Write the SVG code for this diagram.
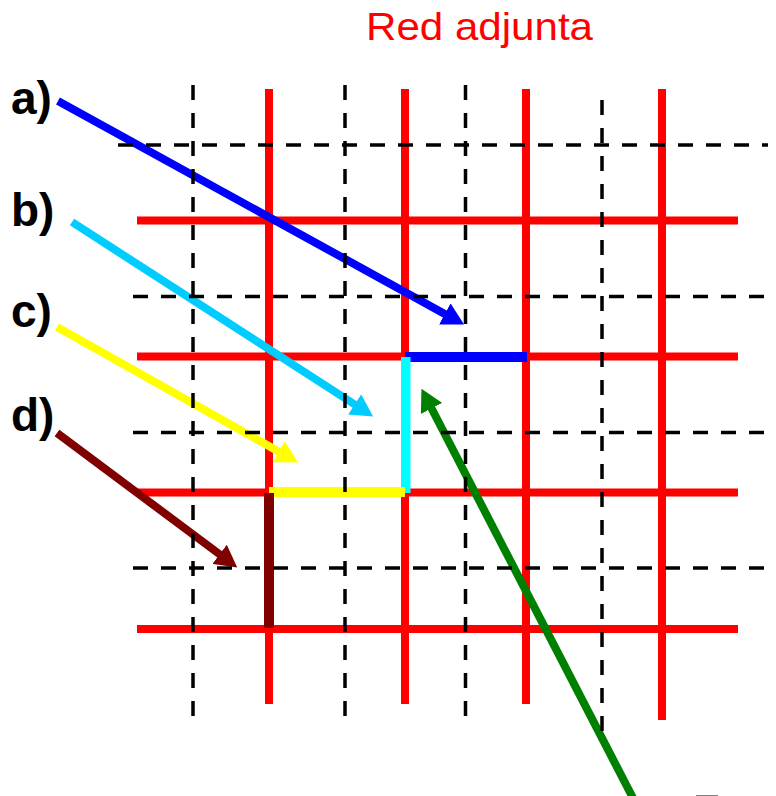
<svg xmlns="http://www.w3.org/2000/svg" width="776" height="796" viewBox="0 0 776 796">
<style>
.red{stroke:#FF0000;stroke-width:8;fill:none}
.dash{stroke:#000;stroke-width:3.5;stroke-dasharray:15 13;fill:none}
.arr{stroke-width:8;fill:none}
.lbl{font-family:"Liberation Sans",Arial,sans-serif;font-weight:bold;font-size:46px;fill:#000}
.title{font-family:"Liberation Sans",Arial,sans-serif;font-size:39px;fill:#FF0000}
</style>
<defs>
<marker id="hBlue" markerUnits="userSpaceOnUse" viewBox="0 0 22 24" markerWidth="22" markerHeight="24" refX="1" refY="12" orient="auto"><path d="M0,0 L22,12 L0,24 z" fill="#0000FF"/></marker>
<marker id="hSky" markerUnits="userSpaceOnUse" viewBox="0 0 22 24" markerWidth="22" markerHeight="24" refX="1" refY="12" orient="auto"><path d="M0,0 L22,12 L0,24 z" fill="#00CCFF"/></marker>
<marker id="hYel" markerUnits="userSpaceOnUse" viewBox="0 0 22 24" markerWidth="22" markerHeight="24" refX="1" refY="12" orient="auto"><path d="M0,0 L22,12 L0,24 z" fill="#FFFF00"/></marker>
<marker id="hMar" markerUnits="userSpaceOnUse" viewBox="0 0 22 24" markerWidth="22" markerHeight="24" refX="1" refY="12" orient="auto"><path d="M0,0 L22,12 L0,24 z" fill="#800000"/></marker>
<marker id="hGrn" markerUnits="userSpaceOnUse" viewBox="0 0 22 24" markerWidth="22" markerHeight="24" refX="1" refY="12" orient="auto"><path d="M0,0 L22,12 L0,24 z" fill="#008000"/></marker>
</defs>
<rect width="776" height="796" fill="#fff"/>
<text id="title" class="title" x="366" y="40" textLength="227" lengthAdjust="spacingAndGlyphs">Red adjunta</text>
<g id="red-grid">
<line class="red" x1="269" y1="89" x2="269" y2="704"/>
<line class="red" x1="405" y1="89" x2="405" y2="704"/>
<line class="red" x1="526" y1="89" x2="526" y2="704"/>
<line class="red" x1="662" y1="89" x2="662" y2="720"/>
<line class="red" x1="137" y1="220.5" x2="738" y2="220.5"/>
<line class="red" x1="137" y1="356.5" x2="738" y2="356.5"/>
<line class="red" x1="137" y1="492.5" x2="738" y2="492.5"/>
<line class="red" x1="137" y1="629" x2="738" y2="629"/>
</g>
<g id="paths">
<rect id="path-a" x="405" y="352" width="122" height="10" fill="#0000FF"/>
<rect id="path-b" x="401" y="357" width="9.5" height="136" fill="#00FFFF"/>
<rect id="path-c" x="269" y="487" width="136" height="10" fill="#FFFF00"/>
<rect id="path-d" x="264" y="493" width="10" height="135" fill="#800000"/>
</g>
<g id="connectors">
<line class="arr" stroke="#0000FF" x1="58" y1="101" x2="445.7" y2="314.4" marker-end="url(#hBlue)"/>
<line class="arr" stroke="#00CCFF" x1="72" y1="222" x2="355.5" y2="405" marker-end="url(#hSky)"/>
<line class="arr" stroke="#FFFF00" x1="57" y1="327" x2="279.8" y2="452.2" marker-end="url(#hYel)"/>
<line class="arr" stroke="#800000" x1="57" y1="433" x2="220.4" y2="554.9" marker-end="url(#hMar)"/>
<line class="arr" stroke="#008000" x1="634" y1="800" x2="431.1" y2="407.5" marker-end="url(#hGrn)"/>
</g>
<g id="dashed-grid">
<line class="dash" x1="193" y1="85" x2="193" y2="717"/>
<line class="dash" x1="345" y1="85" x2="345" y2="717"/>
<line class="dash" x1="465.5" y1="85" x2="465.5" y2="717"/>
<line class="dash" x1="602" y1="100" x2="602" y2="732"/>
<line class="dash" x1="118" y1="145" x2="768" y2="145"/>
<line class="dash" x1="133" y1="296.5" x2="768" y2="296.5"/>
<line class="dash" x1="133" y1="432.5" x2="768" y2="432.5"/>
<line class="dash" x1="133" y1="568" x2="768" y2="568"/>
</g>
<g id="labels">
<text id="label-a" class="lbl" x="11" y="114">a)</text>
<text id="label-b" class="lbl" x="11" y="226">b)</text>
<text id="label-c" class="lbl" x="11" y="327">c)</text>
<text id="label-d" class="lbl" x="11" y="431">d)</text>
</g>
<rect id="edge-mark" x="696" y="795" width="22" height="2" fill="#808080"/>
</svg>
